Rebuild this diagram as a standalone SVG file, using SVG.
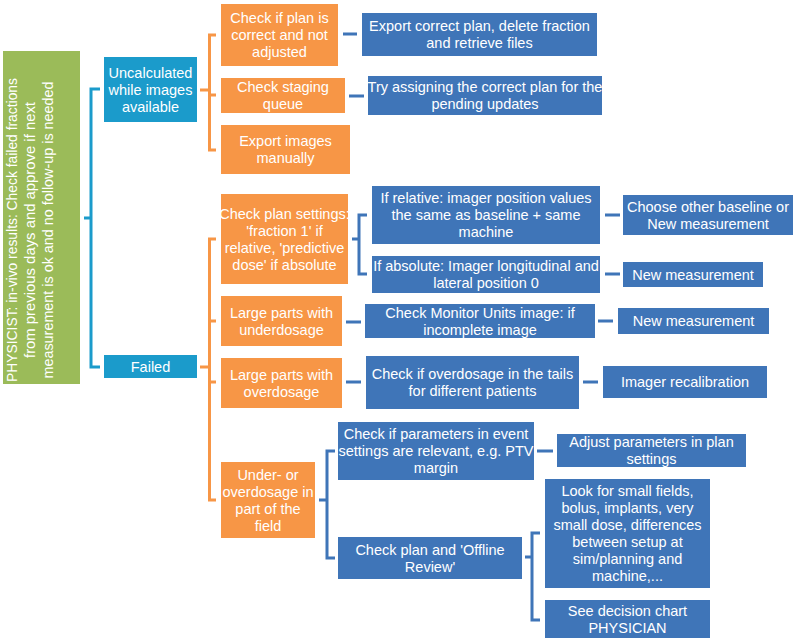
<svg xmlns="http://www.w3.org/2000/svg" width="797" height="642" viewBox="0 0 797 642">
<style>
text{font-family:"Liberation Sans",Arial,sans-serif;font-size:14.5px;fill:#fff;text-anchor:middle}
.rt text{font-size:14px}
.g{fill:#9BBB59}.t{fill:#1B9BCB}.o{fill:#F79646}.b{fill:#3F75B8}
.ct{stroke:#1B9BCB}.co{stroke:#F79646}.cb{stroke:#3F75B8}
#connectors path{fill:none;stroke-width:3}
</style>
<rect width="797" height="642" fill="#fff"/>
<g id="connectors">
<path class="ct" d="M100,89H91V367H100M84,218H91"/>
<path class="co" d="M216,35H209.5V150H216M209.5,95H216M200,90H209.5"/>
<path class="co" d="M216,239H209.5V500H216M209.5,321H216M209.5,382H216M200,367H209.5"/>
<path class="cb" d="M343,34H357M349,96H364"/>
<path class="cb" d="M367,215H359V274H367M352,239H359"/>
<path class="cb" d="M605,215H620M605,274H620M346,322H361M598,321H613M346,382H361M583,382H598M537,451H553"/>
<path class="cb" d="M335,451H327V558H335M319,500H327"/>
<path class="cb" d="M540,533H532V620H540M525,557H532"/>
</g>
<g id="root"><rect class="g" x="3" y="51" width="77" height="333"/>
<g class="rt" transform="translate(0,230) rotate(-90)"><text y="17" textLength="304" lengthAdjust="spacingAndGlyphs">PHYSICIST: in-vivo results: Check failed fractions</text><text y="35" textLength="256" lengthAdjust="spacingAndGlyphs">from previous days and approve if next</text><text y="53" textLength="297" lengthAdjust="spacingAndGlyphs">measurement is ok and no follow-up is needed</text></g></g>
<g id="uncalc"><rect class="t" x="104" y="57" width="93" height="65"/><text x="150.5" y="77.5">Uncalculated<tspan x="150.5" dy="17">while images</tspan><tspan x="150.5" dy="17">available</tspan></text></g>
<g id="failed"><rect class="t" x="104" y="355" width="93" height="23"/><text x="150.5" y="371.5">Failed</text></g>
<g id="o1"><rect class="o" x="221" y="4" width="117" height="62"/><text x="279.5" y="23">Check if plan is<tspan x="279.5" dy="17">correct and not</tspan><tspan x="279.5" dy="17">adjusted</tspan></text></g>
<g id="o2"><rect class="o" x="221" y="78" width="124" height="35"/><text x="283" y="92">Check staging<tspan x="283" dy="17">queue</tspan></text></g>
<g id="o3"><rect class="o" x="221" y="125" width="129" height="49"/><text x="285.5" y="146">Export images<tspan x="285.5" dy="17">manually</tspan></text></g>
<g id="b1"><rect class="b" x="362" y="13" width="235" height="43"/><text x="479.5" y="31">Export correct plan, delete fraction<tspan x="479.5" dy="17">and retrieve files</tspan></text></g>
<g id="b2"><rect class="b" x="368" y="76" width="234" height="39"/><text x="485" y="92">Try assigning the correct plan for the<tspan x="485" dy="17">pending updates</tspan></text></g>
<g id="o4"><rect class="o" x="221" y="194" width="127" height="90"/><text x="284.5" y="218.5">Check plan settings:<tspan x="284.5" dy="17">'fraction 1' if</tspan><tspan x="284.5" dy="17">relative, 'predictive</tspan><tspan x="284.5" dy="17">dose' if absolute</tspan></text></g>
<g id="b3"><rect class="b" x="372" y="186" width="228" height="58"/><text x="486" y="203">If relative: imager position values<tspan x="486" dy="17">the same as baseline + same</tspan><tspan x="486" dy="17">machine</tspan></text></g>
<g id="b4"><rect class="b" x="372" y="256" width="228" height="37"/><text x="486" y="271">If absolute: Imager longitudinal and<tspan x="486" dy="17">lateral position 0</tspan></text></g>
<g id="b5"><rect class="b" x="623" y="195" width="170" height="40"/><text x="708" y="211.5">Choose other baseline or<tspan x="708" dy="17">New measurement</tspan></text></g>
<g id="b6"><rect class="b" x="623" y="262" width="140" height="25"/><text x="693" y="279.5">New measurement</text></g>
<g id="o5"><rect class="o" x="221" y="296" width="121" height="50"/><text x="281.5" y="317.5">Large parts with<tspan x="281.5" dy="17">underdosage</tspan></text></g>
<g id="b7"><rect class="b" x="365" y="304" width="230" height="34"/><text x="480" y="317.5">Check Monitor Units image: if<tspan x="480" dy="17">incomplete image</tspan></text></g>
<g id="b8"><rect class="b" x="618" y="308" width="151" height="26"/><text x="693.5" y="326">New measurement</text></g>
<g id="o6"><rect class="o" x="221" y="358" width="121" height="50"/><text x="281.5" y="379.5">Large parts with<tspan x="281.5" dy="17">overdosage</tspan></text></g>
<g id="b9"><rect class="b" x="366" y="356" width="213" height="53"/><text x="472.5" y="379">Check if overdosage in the tails<tspan x="472.5" dy="17">for different patients</tspan></text></g>
<g id="b10"><rect class="b" x="603" y="366" width="164" height="32"/><text x="685" y="387">Imager recalibration</text></g>
<g id="o7"><rect class="o" x="221" y="462" width="94" height="76"/><text x="268" y="479.5">Under- or<tspan x="268" dy="17">overdosage in</tspan><tspan x="268" dy="17">part of the</tspan><tspan x="268" dy="17">field</tspan></text></g>
<g id="b11"><rect class="b" x="338" y="422" width="196" height="58"/><text x="436" y="439">Check if parameters in event<tspan x="436" dy="17">settings are relevant, e.g. PTV</tspan><tspan x="436" dy="17">margin</tspan></text></g>
<g id="b12"><rect class="b" x="557" y="434" width="189" height="33"/><text x="651.5" y="447">Adjust parameters in plan<tspan x="651.5" dy="17">settings</tspan></text></g>
<g id="b13"><rect class="b" x="338" y="537" width="184" height="42"/><text x="430" y="554.5">Check plan and 'Offline<tspan x="430" dy="17">Review'</tspan></text></g>
<g id="b14"><rect class="b" x="545" y="479" width="165" height="109"/><text x="627.5" y="496">Look for small fields,<tspan x="627.5" dy="17">bolus, implants, very</tspan><tspan x="627.5" dy="17">small dose, differences</tspan><tspan x="627.5" dy="17">between setup at</tspan><tspan x="627.5" dy="17">sim/planning and</tspan><tspan x="627.5" dy="17">machine,...</tspan></text></g>
<g id="b15"><rect class="b" x="545" y="600" width="165" height="38"/><text x="627.5" y="615.5">See decision chart<tspan x="627.5" dy="17">PHYSICIAN</tspan></text></g>
</svg>
